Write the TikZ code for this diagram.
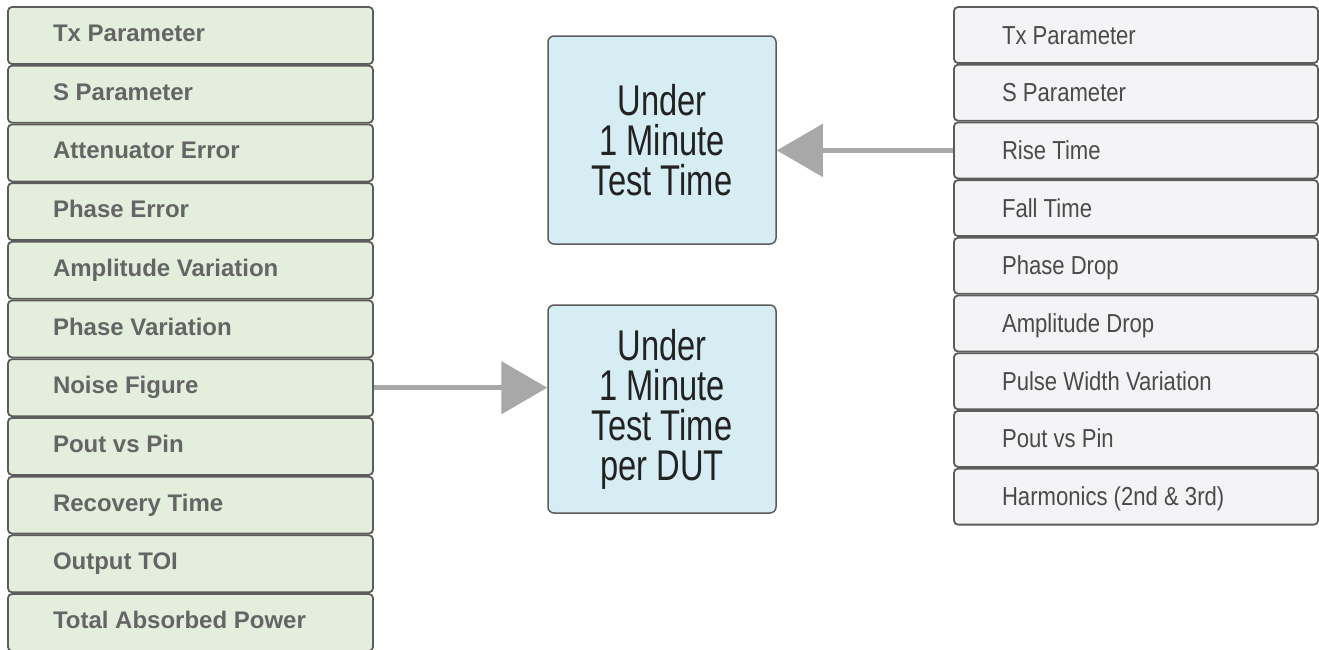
\documentclass[tikz,border=0pt]{standalone}
\usepackage{fontspec}
\setmainfont{Liberation Sans}
\newfontfamily\rfont[FakeStretch=0.85]{Liberation Sans}
\newfontfamily\cfont[FakeStretch=0.76]{Liberation Sans}
\usetikzlibrary{arrows.meta}
\definecolor{lgreen}{HTML}{E3EFDC}
\definecolor{lgray}{HTML}{F4F4F6}
\definecolor{lblue}{HTML}{D6EDF3}
\definecolor{bordc}{HTML}{5C5C5C}
\definecolor{ltext}{HTML}{656565}
\definecolor{rtext}{HTML}{4A4A4A}
\definecolor{ctext}{HTML}{222222}
\definecolor{arrc}{HTML}{A8A8A8}
\newcommand{\ctr}[1]{\parbox[c]{228pt}{\centering #1}}
\tikzset{
  x=1pt, y=1pt,
  lbox/.style={draw=bordc, line width=1.8pt, rounded corners=4pt, fill=lgreen,
    inner xsep=45pt, inner ysep=0pt, minimum height=57pt,
    text height=18pt, text depth=6pt,
    text=ltext, font=\fontsize{24}{27}\selectfont\bfseries},
  rbox/.style={draw=bordc, line width=1.8pt, rounded corners=4pt, fill=lgray,
    inner xsep=48pt, inner ysep=0pt, minimum height=56pt,
    text height=24pt, text depth=6pt,
    text=rtext, font=\rfont\fontsize{26}{30}\selectfont},
  cbox/.style={draw=bordc, line width=1.5pt, rounded corners=6pt, fill=lblue,
    minimum width=228pt, minimum height=208pt, inner sep=0pt,
    text=ctext, font=\cfont\fontsize{43}{40}\selectfont},
  garrow/.style={draw=arrc, line width=5pt, -{Triangle[length=46pt,width=52pt]}}
}
\begin{document}
\begin{tikzpicture}
\useasboundingbox (0,-649) rectangle (1319,0);
\begin{scope}
\clip (0,-649) rectangle (1319,0);
% left column
\foreach \t [count=\i from 0] in {Tx Parameter,S Parameter,Attenuator Error,Phase Error,Amplitude Variation,Phase Variation,Noise Figure,Pout vs Pin,Recovery Time,Output TOI,Total Absorbed Power}
  \node[lbox] (l\i) at (190.5,{-(7+58.7*\i+28.5)}) {\makebox[275pt][l]{\t}};
% right column
\foreach \t [count=\i from 0] in {Tx Parameter,S Parameter,Rise Time,Fall Time,Phase Drop,Amplitude Drop,Pulse Width Variation,Pout vs Pin,Harmonics (2nd \& 3rd)}
  \node[rbox] (r\i) at (1136,{-(7+57.7*\i+28)}) {\makebox[268pt][l]{\t}};
\end{scope}
% centre boxes
\node[cbox] (c1) at (662,-140) {\ctr{Under\\1 Minute\\Test Time}};
\node[cbox] (c2) at (662,-409) {\ctr{Under\\1 Minute\\Test Time\\per DUT}};
% arrows
\draw[garrow] (r2.west) -- (r2.west -| c1.east);
\draw[garrow] (l6.east) -- (l6.east -| c2.west);
\end{tikzpicture}
\end{document}
